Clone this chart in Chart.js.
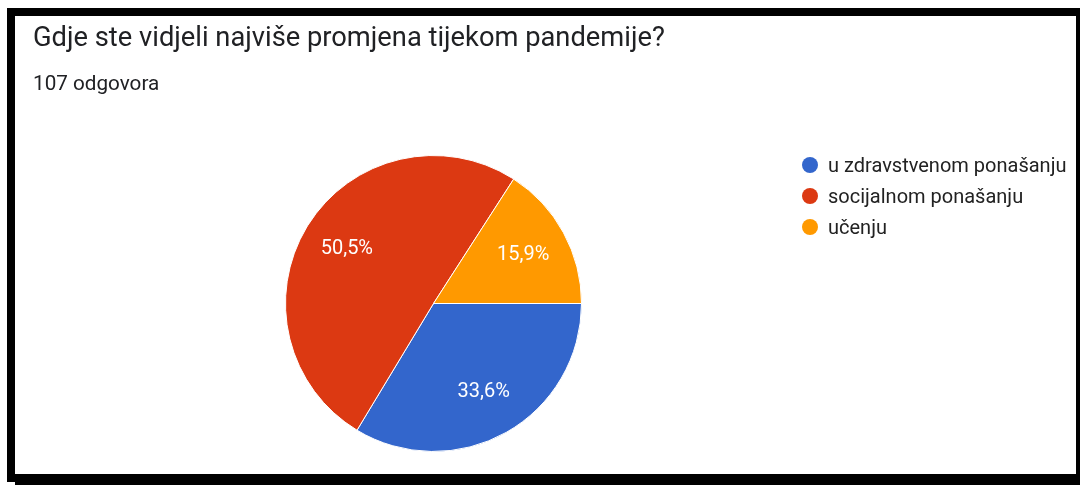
<!DOCTYPE html>
<html>
<head>
<meta charset="utf-8">
<script src="https://cdn.jsdelivr.net/npm/chart.js@4.4.1/dist/chart.umd.min.js"></script>
<style>
  html, body { margin: 0; padding: 0; background: #fff; width: 1081px; height: 485px; overflow: hidden; font-family: Roboto, Arial, sans-serif; }
  #frame { position: absolute; left: 7px; top: 8px; width: 1073px; height: 477px; box-sizing: border-box;
           border-style: solid; border-color: #000; border-width: 8px 4px 11px 8px; }
  #patch { position: absolute; left: 7px; top: 482px; width: 8px; height: 3px; background: #fff; }
  #title { position: absolute; left: 33px; top: 24px; font-size: 27.3px; line-height: 27px; color: #202124; white-space: nowrap; }
  #sub { position: absolute; left: 33px; top: 73px; font-size: 20.7px; line-height: 20px; color: #202124; white-space: nowrap; }
  #wrap { position: absolute; left: 0; top: 0; width: 1081px; height: 485px; }
  #legend { position: absolute; left: 802px; top: 149px; }
  .row { height: 31px; display: flex; align-items: center; font-size: 20px; line-height: 20px; color: #222; white-space: nowrap; }
  .dot { width: 16px; height: 16px; border-radius: 50%; margin-right: 10px; flex: none; }
</style>
</head>
<body>
<div id="wrap"><canvas id="c" width="1081" height="485"></canvas></div>
<div id="frame"></div>
<div id="patch"></div>
<div id="title">Gdje ste vidjeli najviše promjena tijekom pandemije?</div>
<div id="sub">107 odgovora</div>
<div id="legend"></div>
<script>
const categories = ["u zdravstvenom ponašanju", "socijalnom ponašanju", "učenju"];
const counts = [36, 54, 17];
const colors = ["#3366cc", "#dc3912", "#ff9900"];

const total = counts.reduce((a, b) => a + b, 0);

const legendEl = document.getElementById('legend');
categories.forEach((name, i) => {
  const row = document.createElement('div');
  row.className = 'row';
  const dot = document.createElement('span');
  dot.className = 'dot';
  dot.style.background = colors[i];
  const txt = document.createElement('span');
  txt.textContent = name;
  row.appendChild(dot);
  row.appendChild(txt);
  legendEl.appendChild(row);
});

const sliceLabels = {
  id: 'sliceLabels',
  afterDatasetsDraw(chart) {
    const ctx = chart.ctx;
    const meta = chart.getDatasetMeta(0);
    ctx.save();
    ctx.font = '20px Roboto, Arial, sans-serif';
    ctx.fillStyle = '#ffffff';
    ctx.textAlign = 'center';
    ctx.textBaseline = 'middle';
    meta.data.forEach((arc, i) => {
      const p = arc.getProps(['x', 'y', 'startAngle', 'endAngle', 'outerRadius'], true);
      const mid = (p.startAngle + p.endAngle) / 2;
      const r = p.outerRadius * 0.69;
      const pct = (counts[i] / total * 100).toFixed(1).replace('.', ',') + '%';
      ctx.fillText(pct, p.x + Math.cos(mid) * r, p.y + Math.sin(mid) * r);
    });
    ctx.restore();
  }
};

new Chart(document.getElementById('c'), {
  type: 'pie',
  data: {
    labels: categories,
    datasets: [{
      data: counts,
      backgroundColor: colors,
      borderColor: '#ffffff',
      borderWidth: 1,
      hoverOffset: 0,
      offset: 0
    }]
  },
  options: {
    responsive: false,
    animation: false,
    rotation: 90,
    layout: { padding: { left: 285, top: 155, right: 499, bottom: 33 } },
    plugins: { legend: { display: false }, tooltip: { enabled: false } }
  },
  plugins: [sliceLabels]
});
</script>
</body>
</html>
